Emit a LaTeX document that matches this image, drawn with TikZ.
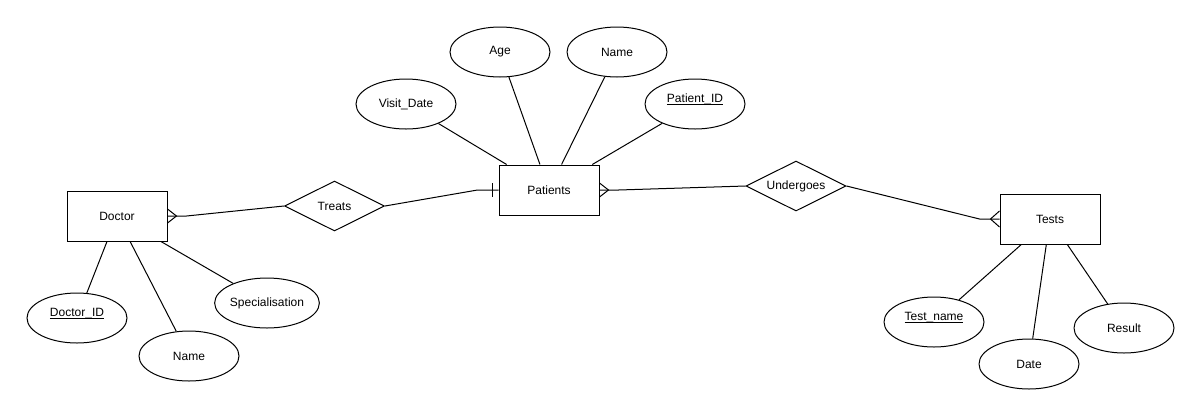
\documentclass[tikz,border=0pt]{standalone}
\usepackage{fontspec}
\setmainfont{Liberation Sans}
\usetikzlibrary{shapes.geometric}
\newcommand{\keyattr}[1]{\underline{\smash{#1}}}
\begin{document}
\begin{tikzpicture}[x=0.75pt,y=-0.75pt,line width=0.75pt,
    every node/.style={font=\fontsize{9}{11}\selectfont},
    entity/.style={draw,rectangle,minimum width=75pt,minimum height=37.5pt,inner sep=0pt},
    relation/.style={draw,diamond,aspect=2,minimum width=75pt,minimum height=37.5pt,inner sep=0pt},
    attr/.style={draw,ellipse,minimum width=75pt,minimum height=37.5pt,inner sep=0pt}]
      \useasboundingbox (0,0) rectangle (1201,415);
      \draw
        (117,216) node[entity] (doctor){Doctor}
        (549,190) node[entity] (patients){Patients}
        (1050,219) node[entity] (tests){Tests}
        (334.5,206) node[relation] (treats){Treats}
        (796,186) node[relation] (undergoes){Undergoes}
        (77,318) node[attr] (docid){\keyattr{Doctor\_ID}}
        (189,356) node[attr] (docname){Name}
        (267,303) node[attr] (spec){Specialisation}
        (406,104) node[attr] (visit){Visit\_Date}
        (500,52) node[attr] (age){Age}
        (617,52) node[attr] (patname){Name}
        (695,104) node[attr] (patid){\keyattr{Patient\_ID}}
        (934,322) node[attr] (testname){\keyattr{Test\_name}}
        (1029,364) node[attr] (date){Date}
        (1124,328) node[attr] (result){Result};
      \begin{scope}[-]
        \draw (doctor) to (docid);
        \draw (doctor) to (docname);
        \draw (doctor) to (spec);
        \draw (patients) to (visit);
        \draw (patients) to (age);
        \draw (patients) to (patname);
        \draw (patients) to (patid);
        \draw (tests) to (testname);
        \draw (tests) to (date);
        \draw (tests) to (result);
        \draw (doctor.east) -- ++(19,0) -- (treats.west);
        \draw (treats.east) -- ([shift={(-21,0)}]patients.west) -- (patients.west);
        \draw (patients.east) -- ++(19,0) -- (undergoes.west);
        \draw (undergoes.east) -- ([shift={(-20,0)}]tests.west) -- (tests.west);
        % crow's feet and bar
        \draw ([shift={(0,-7)}]doctor.east) -- ([shift={(9,0)}]doctor.east) -- ([shift={(0,7)}]doctor.east);
        \draw ([shift={(0,-7)}]patients.east) -- ([shift={(9,0)}]patients.east) -- ([shift={(0,7)}]patients.east);
        \draw ([shift={(0,-8)}]tests.west) -- ([shift={(-9,0)}]tests.west) -- ([shift={(0,8)}]tests.west);
        \draw ([shift={(-6,-7)}]patients.west) -- ([shift={(-6,7)}]patients.west);
      \end{scope}
    \end{tikzpicture}
\end{document}
